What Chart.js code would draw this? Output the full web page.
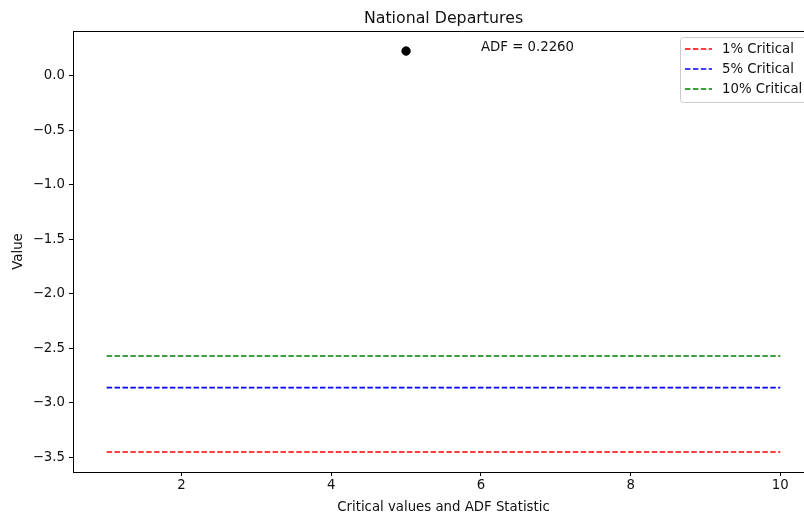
<!DOCTYPE html>
<html>
<head>
<meta charset="utf-8">
<script src="https://cdn.jsdelivr.net/npm/chart.js@4.4.0/dist/chart.umd.min.js"></script>
<style>
html, body { margin: 0; padding: 0; background: #fff; overflow: hidden; }
canvas { display: block; }
</style>
</head>
<body>
<canvas id="myChart" width="830" height="516"></canvas>
<script>
// values
const lineX = [1, 10];
const criticalLabels = ['1% Critical', '5% Critical', '10% Critical'];
const criticalValues = [-3.45, -2.86, -2.57];
const criticalColors = ['#ff0000', '#0000ff', '#008000'];
const adfX = 5;
const adfValue = 0.2260;
const adfLabelX = 6;
const xTicks = [2, 4, 6, 8, 10];
const yTicks = [-3.5, -3.0, -2.5, -2.0, -1.5, -1.0, -0.5, 0.0];

const FONT = 'DejaVu Sans';
const TEXT = '#111';
const FS = 13.3;

// matplotlib-like 5% margins around the data
const xLo = Math.min(...lineX), xHi = Math.max(...lineX);
const yLo = Math.min(...criticalValues), yHi = adfValue;
const xPad = (xHi - xLo) * 0.05, yPad = (yHi - yLo) * 0.05;

const datasets = criticalLabels.map((lab, i) => ({
    label: lab,
    data: lineX.map(x => ({ x: x, y: criticalValues[i] })),
    borderColor: criticalColors[i],
    backgroundColor: criticalColors[i],
    borderWidth: 1.6,
    borderDash: [5.5, 2.4],
    pointRadius: 0,
    showLine: true
}));
datasets.push({
    label: 'ADF Statistic',
    data: [{ x: adfX, y: adfValue }],
    showLine: false,
    pointRadius: 4.2,
    pointBackgroundColor: '#000',
    pointBorderColor: '#000',
    legendHidden: true
});

const boxPlugin = {
    id: 'mplExtras',
    afterDraw(chart) {
        const { ctx, chartArea: a, scales } = chart;
        ctx.save();
        // axes frame
        ctx.strokeStyle = '#000';
        ctx.lineWidth = 1;
        ctx.strokeRect(Math.round(a.left) + 0.5, Math.round(a.top) + 0.5,
            Math.round(a.right - a.left), Math.round(a.bottom - a.top));

        // title centred over the axes
        ctx.fillStyle = TEXT;
        ctx.font = '15.8px "' + FONT + '"';
        ctx.textAlign = 'center';
        ctx.textBaseline = 'alphabetic';
        ctx.fillText('National Departures', (a.left + a.right) / 2, 23);

        // ADF annotation
        ctx.font = FS + 'px "' + FONT + '"';
        ctx.textAlign = 'left';
        ctx.fillText('ADF = ' + adfValue.toFixed(4),
            scales.x.getPixelForValue(adfLabelX), scales.y.getPixelForValue(adfValue));

        // legend box, upper right inside the axes
        const items = chart.data.datasets.filter(d => !d.legendHidden);
        const bx = 680, by = 37, bw = 130, bh = 65;
        ctx.fillStyle = 'rgba(255,255,255,0.8)';
        ctx.strokeStyle = '#cccccc';
        ctx.lineWidth = 1;
        ctx.beginPath();
        ctx.roundRect(bx + 0.5, by + 0.5, bw, bh, 3);
        ctx.fill();
        ctx.stroke();
        items.forEach((d, i) => {
            const yy = by + 12 + i * 20;
            ctx.strokeStyle = d.borderColor;
            ctx.lineWidth = 1.6;
            ctx.setLineDash(d.borderDash);
            ctx.beginPath();
            ctx.moveTo(bx + 5, yy);
            ctx.lineTo(bx + 32, yy);
            ctx.stroke();
            ctx.setLineDash([]);
            ctx.fillStyle = TEXT;
            ctx.textBaseline = 'middle';
            ctx.fillText(d.label, bx + 42, yy + 1);
        });
        ctx.restore();
    }
};

const ctx1 = document.getElementById('myChart').getContext('2d');
const myChart = new Chart(ctx1, {
    type: 'scatter',
    data: { datasets: datasets },
    options: {
        responsive: false,
        animation: false,
        layout: { padding: { top: 31, right: 16, left: 0, bottom: 0 } },
        scales: {
            x: {
                type: 'linear',
                min: xLo - xPad,
                max: xHi + xPad,
                afterBuildTicks: s => { s.ticks = xTicks.map(v => ({ value: v })); },
                afterFit: s => { s.height = 44; },
                ticks: {
                    color: TEXT,
                    font: { family: FONT, size: FS },
                    padding: 2,
                    maxRotation: 0,
                    callback: v => String(v)
                },
                grid: {
                    drawOnChartArea: false,
                    drawTicks: true,
                    tickLength: 4,
                    color: '#000'
                },
                border: { color: '#000' },
                title: {
                    display: true,
                    text: 'Critical values and ADF Statistic',
                    color: TEXT,
                    font: { family: FONT, size: FS },
                    padding: { top: 4, bottom: 0 }
                }
            },
            y: {
                type: 'linear',
                min: yLo - yPad,
                max: yHi + yPad,
                afterBuildTicks: s => { s.ticks = yTicks.map(v => ({ value: v })); },
                afterFit: s => { s.width = 73; },
                ticks: {
                    color: TEXT,
                    font: { family: FONT, size: FS },
                    padding: 4,
                    callback: v => v.toFixed(1).replace('-', '\u2212')
                },
                grid: {
                    drawOnChartArea: false,
                    drawTicks: true,
                    tickLength: 4,
                    color: '#000'
                },
                border: { color: '#000' },
                title: {
                    display: true,
                    text: 'Value',
                    color: TEXT,
                    font: { family: FONT, size: FS },
                    padding: { top: 11, bottom: 0 }
                }
            }
        },
        plugins: {
            legend: { display: false },
            tooltip: { enabled: false }
        }
    },
    plugins: [boxPlugin]
});
</script>
</body>
</html>
